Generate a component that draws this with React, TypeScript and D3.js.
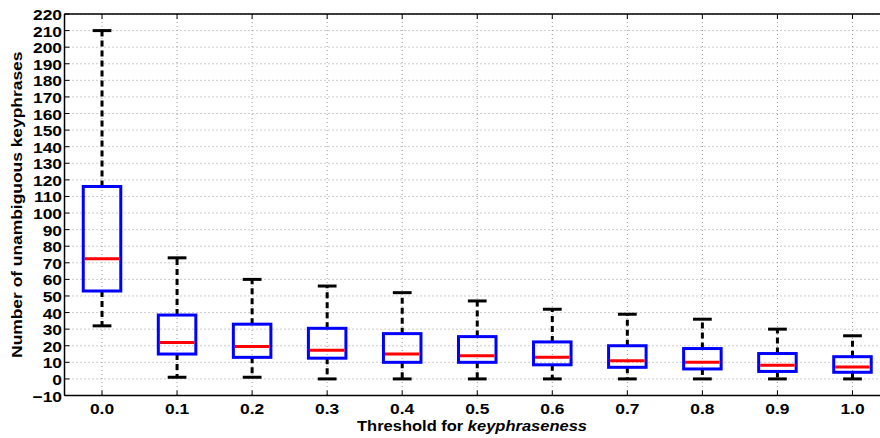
import React from "react";
import * as d3 from "d3";

const thresholds = ["0.0", "0.1", "0.2", "0.3", "0.4", "0.5", "0.6", "0.7", "0.8", "0.9", "1.0"];
const whiskerLow = [32, 1, 1, 0, 0, 0, 0, 0, 0, 0, 0];
const q1 = [53, 15, 13, 12.5, 10, 10, 8.5, 7, 6, 4.5, 4];
const median = [72.5, 22, 19.5, 17.3, 15, 14, 13, 11, 10, 8.2, 7.2];
const q3 = [116, 38.5, 33, 30.5, 27.3, 25.5, 22.3, 20, 18.3, 15.3, 13.4];
const whiskerHigh = [210, 73, 60, 56, 52, 47, 42, 39, 36, 30, 26];
const yTicks = [-10, 0, 10, 20, 30, 40, 50, 60, 70, 80, 90, 100, 110, 120, 130, 140, 150, 160, 170, 180, 190, 200, 210, 220];

const W = 880;
const H = 438;
const left = 64.5, top = 14, bottom = 395.5, right = 890;
const font = "'Liberation Sans', Arial, Helvetica, sans-serif";

// text helper, stretched horizontally around its anchor point
// (the original text is a bit wider than Liberation Sans)
function Label(props: { x: number; y: number; anchor: string; rotate?: number; stretch?: number; children: any }) {
  const rot = props.rotate ? ` rotate(${props.rotate})` : "";
  const s = props.stretch || 1.16;
  return (
    <text
      transform={`translate(${props.x},${props.y})${rot} scale(${s},1)`}
      textAnchor={props.anchor}
      fontFamily={font}
      fontWeight="bold"
      fontSize={15}
    >
      {props.children}
    </text>
  );
}

export default function App() {
  const x = d3.scaleLinear().domain([-0.5, thresholds.length - 0.5]).range([left, right]);
  const y = d3.scaleLinear().domain([-10, 220]).range([bottom, top]);
  const step = x(1) - x(0);
  const boxW = step * 0.5;
  const capW = boxW * 0.5;
  const fmt = (v: number) => (v < 0 ? "\u2212" + Math.abs(v) : String(v));

  return (
    <svg width={W} height={H} style={{ position: "absolute", left: 0, top: 0, background: "#fff" }}>
      {/* grid */}
      {yTicks.map((t) => (
        <line key={"gy" + t} x1={left} x2={right} y1={y(t)} y2={y(t)} stroke="#999" strokeWidth={1} strokeDasharray="1,3" />
      ))}
      {thresholds.map((c, i) => (
        <line key={"gx" + c} x1={x(i)} x2={x(i)} y1={top} y2={bottom} stroke="#999" strokeWidth={1} strokeDasharray="1,3" />
      ))}

      {/* boxes */}
      {thresholds.map((c, i) => {
        const cx = x(i);
        return (
          <g key={"b" + c}>
            <line x1={cx} x2={cx} y1={y(q3[i])} y2={y(whiskerHigh[i])} stroke="#000" strokeWidth={3} strokeDasharray="6,4" />
            <line x1={cx} x2={cx} y1={y(q1[i])} y2={y(whiskerLow[i])} stroke="#000" strokeWidth={3} strokeDasharray="6,4" />
            <line x1={cx - capW / 2} x2={cx + capW / 2} y1={y(whiskerHigh[i])} y2={y(whiskerHigh[i])} stroke="#000" strokeWidth={3} />
            <line x1={cx - capW / 2} x2={cx + capW / 2} y1={y(whiskerLow[i])} y2={y(whiskerLow[i])} stroke="#000" strokeWidth={3} />
            <rect x={cx - boxW / 2} y={y(q3[i])} width={boxW} height={y(q1[i]) - y(q3[i])} fill="none" stroke="#0000ff" strokeWidth={3} />
            <line x1={cx - boxW / 2 + 1.5} x2={cx + boxW / 2 - 1.5} y1={y(median[i])} y2={y(median[i])} stroke="#ff0000" strokeWidth={3} />
          </g>
        );
      })}

      {/* axes frame */}
      <line x1={left} x2={right} y1={top} y2={top} stroke="#000" strokeWidth={1.5} />
      <line x1={left} x2={right} y1={bottom} y2={bottom} stroke="#000" strokeWidth={1.5} />
      <line x1={left} x2={left} y1={top} y2={bottom} stroke="#000" strokeWidth={1.5} />

      {/* ticks */}
      {thresholds.map((c, i) => (
        <g key={"t" + c}>
          <line x1={x(i)} x2={x(i)} y1={top} y2={top + 5} stroke="#000" strokeWidth={1} />
          <line x1={x(i)} x2={x(i)} y1={bottom} y2={bottom - 5} stroke="#000" strokeWidth={1} />
          <Label x={x(i)} y={bottom + 18} anchor="middle">{c}</Label>
        </g>
      ))}
      {yTicks.map((t) => (
        <g key={"yt" + t}>
          <line x1={left} x2={left + 5} y1={y(t)} y2={y(t)} stroke="#000" strokeWidth={1} />
          <Label x={left - 2.5} y={y(t) + 6} anchor="end">{fmt(t)}</Label>
        </g>
      ))}

      {/* labels */}
      <Label x={472} y={430.5} anchor="middle" stretch={1.1}>
        Threshold for <tspan fontStyle="italic">keyphraseness</tspan>
      </Label>
      <Label x={22} y={(top + bottom) / 2} anchor="middle" rotate={-90}>
        Number of unambiguous keyphrases
      </Label>
    </svg>
  );
}
